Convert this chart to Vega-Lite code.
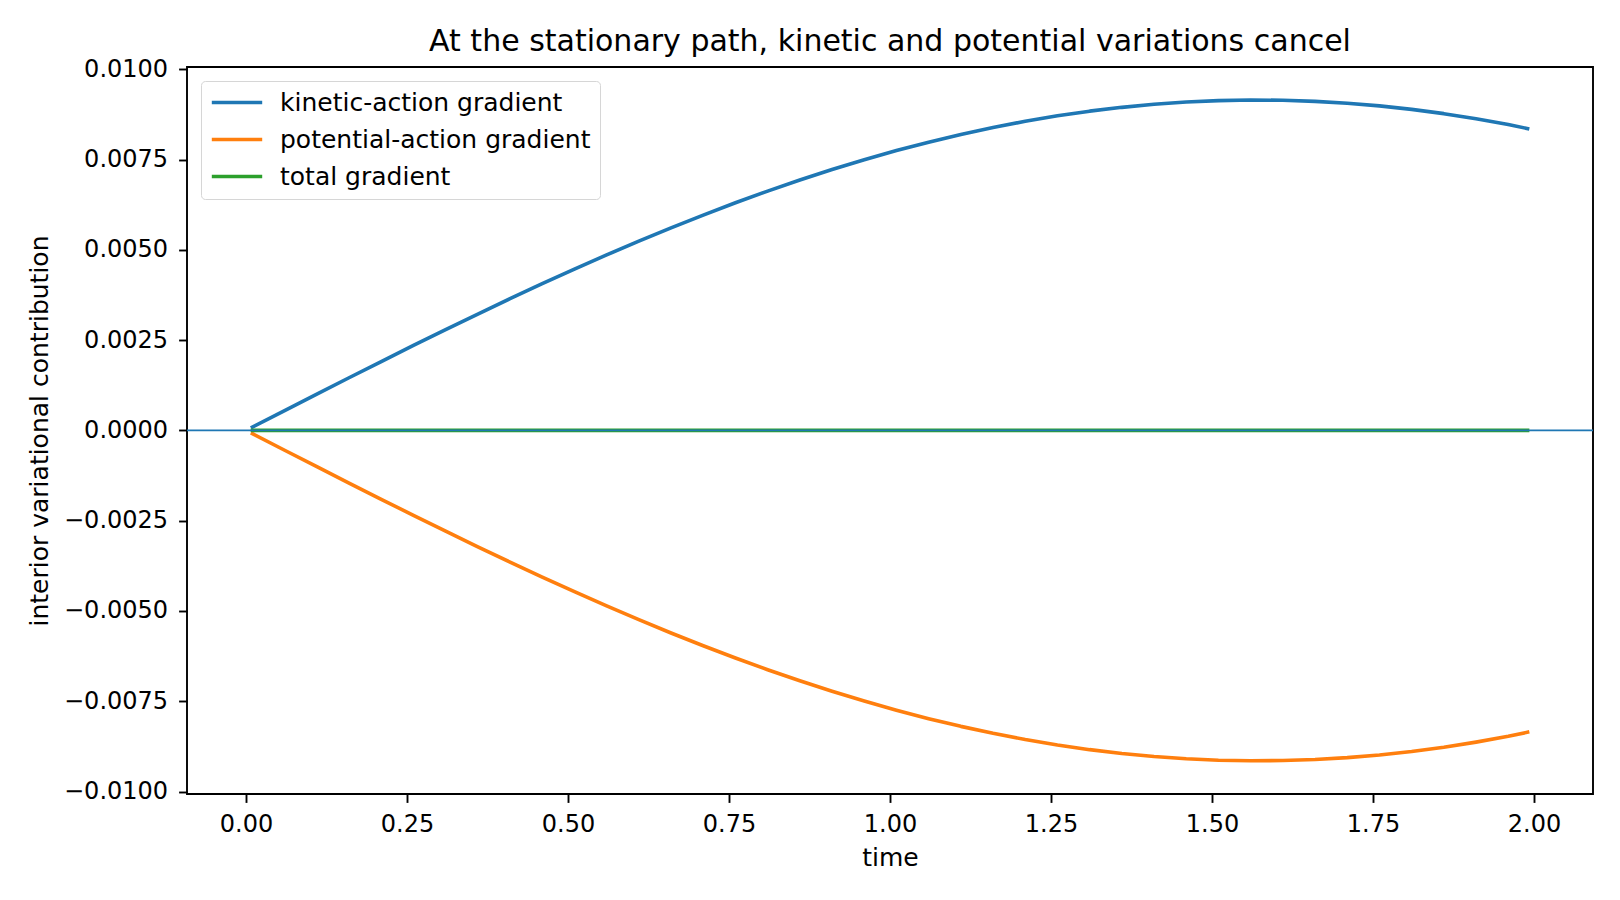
{
  "$schema": "https://vega.github.io/schema/vega-lite/v6.json",
  "autosize": {"type": "none"},
  "width": 1406,
  "height": 727,
  "padding": {"left": 187, "top": 67, "right": 27, "bottom": 106},
  "background": "white",
  "title": {
    "text": "At the stationary path, kinetic and potential variations cancel",
    "font": "DejaVu Sans",
    "fontSize": 30,
    "fontWeight": "normal",
    "color": "black",
    "anchor": "middle",
    "offset": 0
  },
  "config": {
    "view": {"stroke": "black", "strokeWidth": 1.9},
    "axis": {
      "domain": false,
      "grid": false,
      "tickColor": "black",
      "tickWidth": 1.9,
      "tickSize": 8.4,
      "labelFont": "DejaVu Sans",
      "labelFontSize": 24,
      "labelColor": "black",
      "titleFont": "DejaVu Sans",
      "titleFontSize": 25,
      "titleFontWeight": "normal",
      "titleColor": "black"
    },
    "legend": {
      "orient": "top-left",
      "offset": 14,
      "padding": 9,
      "fillColor": "white",
      "strokeColor": "#d6d6d6",
      "cornerRadius": 4,
      "symbolType": "stroke",
      "symbolSize": 2540,
      "symbolStrokeWidth": 3.6,
      "clipHeight": 25,
      "labelFont": "DejaVu Sans",
      "labelFontSize": 25,
      "labelColor": "black",
      "labelLimit": 600,
      "labelOffset": 16,
      "rowPadding": 11
    }
  },
  "layer": [
    {
      "data": {
        "values": [
          {"series": "kinetic-action gradient", "time": 0.01, "value": 0.0000915},
          {"series": "kinetic-action gradient", "time": 0.06, "value": 0.000549},
          {"series": "kinetic-action gradient", "time": 0.11, "value": 0.001004},
          {"series": "kinetic-action gradient", "time": 0.16, "value": 0.001458},
          {"series": "kinetic-action gradient", "time": 0.21, "value": 0.001907},
          {"series": "kinetic-action gradient", "time": 0.26, "value": 0.002352},
          {"series": "kinetic-action gradient", "time": 0.31, "value": 0.002791},
          {"series": "kinetic-action gradient", "time": 0.36, "value": 0.003223},
          {"series": "kinetic-action gradient", "time": 0.41, "value": 0.003647},
          {"series": "kinetic-action gradient", "time": 0.46, "value": 0.004062},
          {"series": "kinetic-action gradient", "time": 0.51, "value": 0.004467},
          {"series": "kinetic-action gradient", "time": 0.56, "value": 0.00486},
          {"series": "kinetic-action gradient", "time": 0.61, "value": 0.005242},
          {"series": "kinetic-action gradient", "time": 0.66, "value": 0.00561},
          {"series": "kinetic-action gradient", "time": 0.71, "value": 0.005964},
          {"series": "kinetic-action gradient", "time": 0.76, "value": 0.006304},
          {"series": "kinetic-action gradient", "time": 0.81, "value": 0.006627},
          {"series": "kinetic-action gradient", "time": 0.86, "value": 0.006934},
          {"series": "kinetic-action gradient", "time": 0.91, "value": 0.007224},
          {"series": "kinetic-action gradient", "time": 0.96, "value": 0.007496},
          {"series": "kinetic-action gradient", "time": 1.01, "value": 0.007749},
          {"series": "kinetic-action gradient", "time": 1.06, "value": 0.007982},
          {"series": "kinetic-action gradient", "time": 1.11, "value": 0.008196},
          {"series": "kinetic-action gradient", "time": 1.16, "value": 0.008389},
          {"series": "kinetic-action gradient", "time": 1.21, "value": 0.008561},
          {"series": "kinetic-action gradient", "time": 1.26, "value": 0.008712},
          {"series": "kinetic-action gradient", "time": 1.31, "value": 0.008841},
          {"series": "kinetic-action gradient", "time": 1.36, "value": 0.008947},
          {"series": "kinetic-action gradient", "time": 1.41, "value": 0.009032},
          {"series": "kinetic-action gradient", "time": 1.46, "value": 0.009094},
          {"series": "kinetic-action gradient", "time": 1.51, "value": 0.009133},
          {"series": "kinetic-action gradient", "time": 1.56, "value": 0.009149},
          {"series": "kinetic-action gradient", "time": 1.61, "value": 0.009143},
          {"series": "kinetic-action gradient", "time": 1.66, "value": 0.009113},
          {"series": "kinetic-action gradient", "time": 1.71, "value": 0.009061},
          {"series": "kinetic-action gradient", "time": 1.76, "value": 0.008987},
          {"series": "kinetic-action gradient", "time": 1.81, "value": 0.00889},
          {"series": "kinetic-action gradient", "time": 1.86, "value": 0.008772},
          {"series": "kinetic-action gradient", "time": 1.91, "value": 0.008632},
          {"series": "kinetic-action gradient", "time": 1.96, "value": 0.008472},
          {"series": "kinetic-action gradient", "time": 1.99, "value": 0.008358},
          {"series": "potential-action gradient", "time": 0.01, "value": -0.0000915},
          {"series": "potential-action gradient", "time": 0.06, "value": -0.000549},
          {"series": "potential-action gradient", "time": 0.11, "value": -0.001004},
          {"series": "potential-action gradient", "time": 0.16, "value": -0.001458},
          {"series": "potential-action gradient", "time": 0.21, "value": -0.001907},
          {"series": "potential-action gradient", "time": 0.26, "value": -0.002352},
          {"series": "potential-action gradient", "time": 0.31, "value": -0.002791},
          {"series": "potential-action gradient", "time": 0.36, "value": -0.003223},
          {"series": "potential-action gradient", "time": 0.41, "value": -0.003647},
          {"series": "potential-action gradient", "time": 0.46, "value": -0.004062},
          {"series": "potential-action gradient", "time": 0.51, "value": -0.004467},
          {"series": "potential-action gradient", "time": 0.56, "value": -0.00486},
          {"series": "potential-action gradient", "time": 0.61, "value": -0.005242},
          {"series": "potential-action gradient", "time": 0.66, "value": -0.00561},
          {"series": "potential-action gradient", "time": 0.71, "value": -0.005964},
          {"series": "potential-action gradient", "time": 0.76, "value": -0.006304},
          {"series": "potential-action gradient", "time": 0.81, "value": -0.006627},
          {"series": "potential-action gradient", "time": 0.86, "value": -0.006934},
          {"series": "potential-action gradient", "time": 0.91, "value": -0.007224},
          {"series": "potential-action gradient", "time": 0.96, "value": -0.007496},
          {"series": "potential-action gradient", "time": 1.01, "value": -0.007749},
          {"series": "potential-action gradient", "time": 1.06, "value": -0.007982},
          {"series": "potential-action gradient", "time": 1.11, "value": -0.008196},
          {"series": "potential-action gradient", "time": 1.16, "value": -0.008389},
          {"series": "potential-action gradient", "time": 1.21, "value": -0.008561},
          {"series": "potential-action gradient", "time": 1.26, "value": -0.008712},
          {"series": "potential-action gradient", "time": 1.31, "value": -0.008841},
          {"series": "potential-action gradient", "time": 1.36, "value": -0.008947},
          {"series": "potential-action gradient", "time": 1.41, "value": -0.009032},
          {"series": "potential-action gradient", "time": 1.46, "value": -0.009094},
          {"series": "potential-action gradient", "time": 1.51, "value": -0.009133},
          {"series": "potential-action gradient", "time": 1.56, "value": -0.009149},
          {"series": "potential-action gradient", "time": 1.61, "value": -0.009143},
          {"series": "potential-action gradient", "time": 1.66, "value": -0.009113},
          {"series": "potential-action gradient", "time": 1.71, "value": -0.009061},
          {"series": "potential-action gradient", "time": 1.76, "value": -0.008987},
          {"series": "potential-action gradient", "time": 1.81, "value": -0.00889},
          {"series": "potential-action gradient", "time": 1.86, "value": -0.008772},
          {"series": "potential-action gradient", "time": 1.91, "value": -0.008632},
          {"series": "potential-action gradient", "time": 1.96, "value": -0.008472},
          {"series": "potential-action gradient", "time": 1.99, "value": -0.008358},
          {"series": "total gradient", "time": 0.01, "value": 0},
          {"series": "total gradient", "time": 1.0, "value": 0},
          {"series": "total gradient", "time": 1.99, "value": 0}
        ]
      },
      "mark": {"type": "line", "strokeWidth": 3.6, "strokeCap": "square", "strokeJoin": "round"},
      "encoding": {
        "x": {
          "field": "time",
          "type": "quantitative",
          "title": "time",
          "scale": {"domain": [-0.0916, 2.0916], "nice": false, "zero": false},
          "axis": {
            "values": [0, 0.25, 0.5, 0.75, 1, 1.25, 1.5, 1.75, 2],
            "format": ".2f",
            "labelPadding": 10,
            "titlePadding": 9
          }
        },
        "y": {
          "field": "value",
          "type": "quantitative",
          "title": "interior variational contribution",
          "scale": {"domain": [-0.010069, 0.010064], "nice": false, "zero": false},
          "axis": {
            "values": [-0.01, -0.0075, -0.005, -0.0025, 0, 0.0025, 0.005, 0.0075, 0.01],
            "format": ".4f",
            "labelPadding": 11,
            "titlePadding": 11
          }
        },
        "color": {
          "field": "series",
          "type": "nominal",
          "scale": {
            "domain": ["kinetic-action gradient", "potential-action gradient", "total gradient"],
            "range": ["#1f77b4", "#ff7f0e", "#2ca02c"]
          },
          "legend": {"title": null}
        }
      }
    },
    {
      "data": {"values": [{"level": 0}]},
      "mark": {"type": "rule", "color": "#1f77b4", "strokeWidth": 1.9},
      "encoding": {
        "y": {"field": "level", "type": "quantitative"}
      }
    }
  ]
}
